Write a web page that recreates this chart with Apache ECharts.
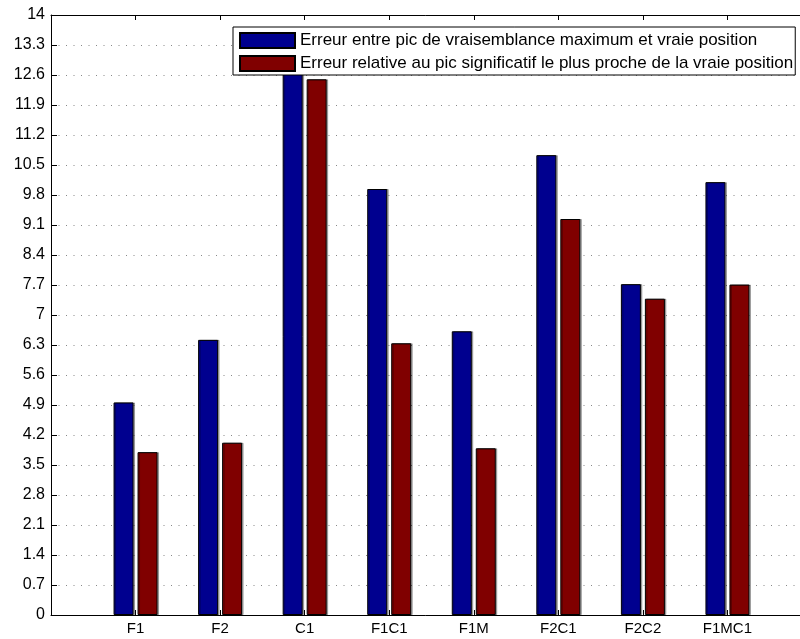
<!DOCTYPE html>
<html>
<head>
<meta charset="utf-8">
<script src="https://cdn.jsdelivr.net/npm/echarts@6/dist/echarts.min.js"></script>
<style>
html,body{margin:0;padding:0;background:#fff;overflow:hidden;}
#chart{width:800px;height:639px;}
</style>
</head>
<body>
<div id="chart"></div>
<script>
const categories = ['F1', 'F2', 'C1', 'F1C1', 'F1M', 'F2C1', 'F2C2', 'F1MC1'];
const seriesNames = [
  'Erreur entre pic de vraisemblance maximum et vraie position',
  'Erreur relative au pic significatif le plus proche de la vraie position'
];
const errMax = [4.96, 6.42, 13.0, 9.94, 6.62, 10.73, 7.72, 10.1];
const errRel = [3.80, 4.02, 12.50, 6.34, 3.89, 9.24, 7.38, 7.71];
const yMin = 0, yMax = 14, yStep = 0.7;

const axisCats = [''].concat(categories, ['']);
const pad = arr => [null].concat(arr, [null]);
const font = 'Liberation Sans, Arial, Helvetica, sans-serif';

const chart = echarts.init(document.getElementById('chart'), null, {renderer: 'canvas'});
chart.setOption({
  animation: false,
  grid: {left: 51, top: 15, width: 761, height: 600, containLabel: false, outerBoundsMode: 'none',
    show: true, borderWidth: 0, borderColor: '#ffffff', backgroundColor: '#ffffff'},
  legend: {
    orient: 'vertical',
    left: 233, top: 27,
    padding: [4, 2, 2, 6],
    icon: 'rect',
    itemWidth: 55, itemHeight: 15, itemGap: 4,
    backgroundColor: '#ffffff',
    borderColor: '#000', borderWidth: 1,
    textStyle: {fontFamily: font, fontSize: 17, color: '#000', lineHeight: 19},
    data: seriesNames,
    z: 10
  },
  xAxis: [{
    type: 'category', data: axisCats, boundaryGap: false, position: 'bottom',
    axisLine: {show: true, lineStyle: {color: '#000', width: 1}},
    axisTick: {show: true, inside: true, length: 5, lineStyle: {color: '#000'}},
    axisLabel: {interval: 0, fontFamily: font, fontSize: 15, color: '#000', margin: 6},
    splitLine: {show: false}
  }, {
    type: 'category', data: axisCats, boundaryGap: false, position: 'top',
    axisLine: {show: true, lineStyle: {color: '#000', width: 1}},
    axisTick: {show: true, inside: true, length: 5, lineStyle: {color: '#000'}},
    axisLabel: {show: false},
    splitLine: {show: false}
  }],
  yAxis: {
    type: 'value', min: yMin, max: yMax, interval: yStep,
    axisLine: {show: true, lineStyle: {color: '#000', width: 1}},
    axisTick: {show: true, inside: true, length: 6, lineStyle: {color: '#000'}},
    axisLabel: {
      fontFamily: font, fontSize: 16, color: '#000', margin: 6,
      formatter: v => String(+v.toFixed(1))
    },
    splitLine: {show: true, lineStyle: {color: '#888', width: 1, type: [1, 6.5]}}
  },
  series: [{
    name: seriesNames[0], type: 'bar', xAxisIndex: 0,
    data: pad(errMax), barWidth: 20, barGap: '20%',
    itemStyle: {color: '#00008F', borderColor: '#000', borderWidth: 1,
      shadowColor: 'rgba(0,0,0,0.3)', shadowOffsetX: 1.5, shadowBlur: 0}
  }, {
    name: seriesNames[1], type: 'bar', xAxisIndex: 0,
    data: pad(errRel), barWidth: 20, barGap: '20%',
    itemStyle: {color: '#800000', borderColor: '#000', borderWidth: 1,
      shadowColor: 'rgba(0,0,0,0.3)', shadowOffsetX: 1.5, shadowBlur: 0}
  }]
});
</script>
</body>
</html>
